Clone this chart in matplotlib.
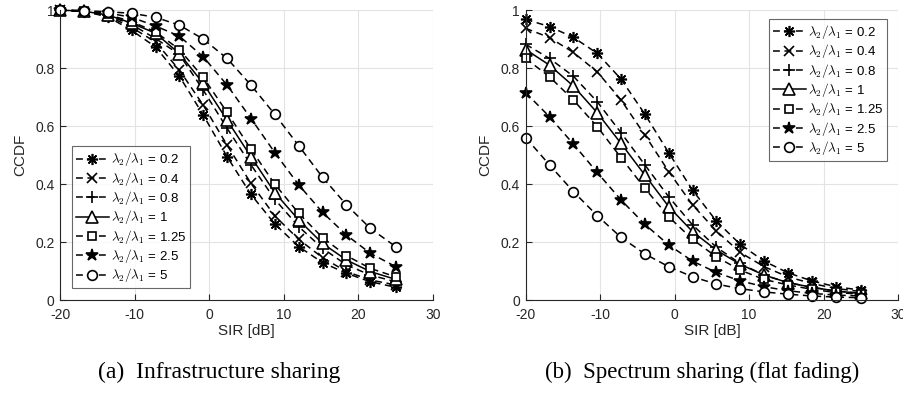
import numpy as np
import matplotlib
matplotlib.use("Agg")
import matplotlib.pyplot as plt

plt.rcParams['font.family'] = ['Liberation Sans', 'DejaVu Sans']
plt.rcParams['mathtext.fontset'] = 'cm'
plt.rcParams['axes.unicode_minus'] = False

# SIR sample points [dB]
sir = [-20, -16.8, -13.6, -10.4, -7.2, -4, -0.8, 2.4, 5.6, 8.8, 12, 15.2, 18.4, 21.6, 25]

ratios = ['0.2', '0.4', '0.8', '1', '1.25', '2.5', '5']

# (a) Infrastructure sharing
ccdf_infra = {
    '0.2':  [1.0, 0.995, 0.977, 0.93, 0.873, 0.772, 0.638, 0.494, 0.364, 0.262, 0.184, 0.129, 0.092, 0.063, 0.044],
    '0.4':  [1.0, 0.995, 0.98, 0.94, 0.89, 0.793, 0.672, 0.534, 0.402, 0.29, 0.209, 0.146, 0.098, 0.069, 0.052],
    '0.8':  [1.0, 0.996, 0.982, 0.95, 0.902, 0.847, 0.724, 0.592, 0.466, 0.347, 0.253, 0.178, 0.121, 0.086, 0.063],
    '1':    [1.0, 0.996, 0.983, 0.955, 0.92, 0.85, 0.747, 0.62, 0.494, 0.37, 0.276, 0.195, 0.138, 0.098, 0.071],
    '1.25': [1.0, 0.996, 0.985, 0.96, 0.925, 0.864, 0.768, 0.647, 0.52, 0.399, 0.299, 0.215, 0.153, 0.109, 0.08],
    '2.5':  [1.0, 0.998, 0.99, 0.975, 0.945, 0.91, 0.839, 0.741, 0.626, 0.508, 0.397, 0.302, 0.224, 0.161, 0.115],
    '5':    [1.0, 0.998, 0.994, 0.989, 0.975, 0.948, 0.9, 0.833, 0.741, 0.64, 0.532, 0.423, 0.328, 0.247, 0.184],
}

# (b) Spectrum sharing (flat fading)
ccdf_spec = {
    '0.2':  [0.968, 0.943, 0.906, 0.851, 0.762, 0.641, 0.508, 0.379, 0.272, 0.192, 0.134, 0.094, 0.066, 0.046, 0.034],
    '0.4':  [0.937, 0.905, 0.854, 0.787, 0.69, 0.569, 0.443, 0.328, 0.238, 0.164, 0.115, 0.08, 0.057, 0.04, 0.029],
    '0.8':  [0.882, 0.833, 0.772, 0.684, 0.577, 0.466, 0.356, 0.259, 0.182, 0.126, 0.086, 0.06, 0.044, 0.031, 0.023],
    '1':    [0.864, 0.81, 0.738, 0.646, 0.54, 0.431, 0.322, 0.236, 0.172, 0.123, 0.086, 0.06, 0.044, 0.031, 0.023],
    '1.25': [0.833, 0.77, 0.69, 0.598, 0.491, 0.385, 0.287, 0.209, 0.149, 0.103, 0.071, 0.052, 0.037, 0.026, 0.02],
    '2.5':  [0.715, 0.632, 0.538, 0.44, 0.345, 0.261, 0.19, 0.134, 0.095, 0.066, 0.046, 0.032, 0.023, 0.017, 0.014],
    '5':    [0.56, 0.466, 0.374, 0.291, 0.216, 0.159, 0.115, 0.08, 0.055, 0.039, 0.028, 0.02, 0.014, 0.01, 0.008],
}

markers = {'0.2': (8, 2, 0), '0.4': 'x', '0.8': '+', '1': '^', '1.25': 's', '2.5': '*', '5': 'o'}
msizes = {'0.2': 8, '0.4': 7, '0.8': 8, '1': 8, '1.25': 6, '2.5': 9, '5': 7}
mfaces = {'2.5': 'black'}

TXT = '#262626'


def draw_panel(ax, data, legend_loc, bbox):
    for r in ratios:
        ls = '-' if r == '1' else '--'
        line, = ax.plot(sir, data[r], color='black', linestyle=ls, linewidth=1.1,
                        marker=markers[r], markersize=msizes[r],
                        markerfacecolor=mfaces.get(r, 'white'),
                        markeredgecolor='black', markeredgewidth=1.2,
                        label=r'$\lambda_2/\lambda_1$ = ' + r, clip_on=False)
        if ls == '--':
            line.set_dashes((4.5, 3))
    ax.set_xlim(-20, 30)
    ax.set_ylim(0, 1)
    ax.set_xticks([-20, -10, 0, 10, 20, 30])
    ax.set_yticks([0, 0.2, 0.4, 0.6, 0.8, 1])
    ax.set_yticklabels(['0', '0.2', '0.4', '0.6', '0.8', '1'])
    ax.grid(True, color='#e3e3e3', linewidth=0.8)
    ax.set_axisbelow(True)
    for s in ['top', 'right']:
        ax.spines[s].set_visible(False)
    for s in ['left', 'bottom']:
        ax.spines[s].set_color(TXT)
        ax.spines[s].set_linewidth(0.8)
    ax.tick_params(direction='in', length=4, labelsize=10, colors=TXT)
    ax.tick_params(axis='x', pad=5.5)
    ax.tick_params(axis='y', pad=4)
    ax.set_xlabel('SIR [dB]', fontsize=11, color=TXT, labelpad=2)
    ax.set_ylabel('CCDF', fontsize=11, color=TXT, labelpad=6)
    leg = ax.legend(loc=legend_loc, bbox_to_anchor=bbox, fontsize=9.5, frameon=True,
                    fancybox=False, edgecolor='#444444', handlelength=2.5,
                    handletextpad=0.15, labelspacing=0.1, borderpad=0.3,
                    borderaxespad=0)
    leg.get_frame().set_linewidth(0.8)


fig = plt.figure(figsize=(9.04, 3.95), dpi=100)
ax1 = fig.add_axes([0.0664, 0.2405, 0.4126, 0.734])
ax2 = fig.add_axes([0.5815, 0.2405, 0.412, 0.734])

draw_panel(ax1, ccdf_infra, 'lower left', (0.032, 0.041))
draw_panel(ax2, ccdf_spec, 'upper right', (0.970, 0.969))

fig.text(0.242, 0.058, '(a)  Infrastructure sharing', ha='center', va='center',
         fontsize=17, family='Liberation Serif')
fig.text(0.777, 0.058, '(b)  Spectrum sharing (flat fading)', ha='center', va='center',
         fontsize=16.5, family='Liberation Serif')

fig.savefig('out.png', dpi=100)
